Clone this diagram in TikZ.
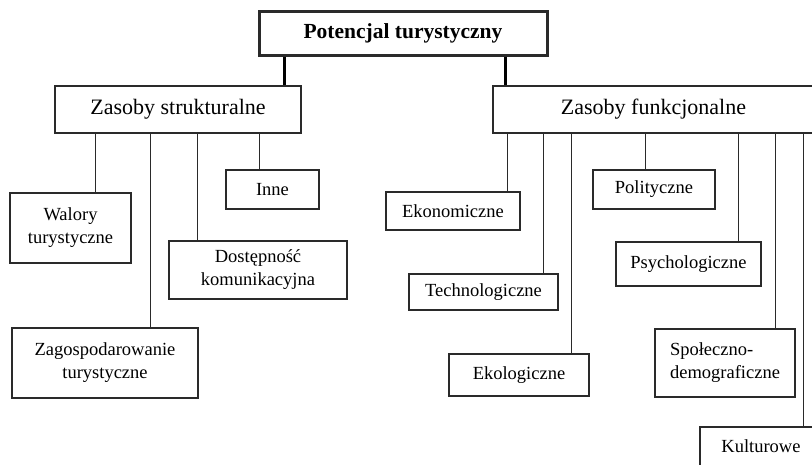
\documentclass[tikz,border=0pt]{standalone}
\usepackage{fontspec}
\setmainfont{Liberation Serif}
\definecolor{ink}{HTML}{2A2A2A}
\begin{document}
\begin{tikzpicture}[x=1pt,y=-1pt,
  box/.style={draw=ink,line width=1.4pt,inner sep=0pt,align=center,text=black,
    font=\fontsize{18.5}{23}\selectfont},
  mainbox/.style={box,font=\fontsize{22}{26}\selectfont},
  topbox/.style={box,line width=3pt,font=\fontsize{21.5}{24}\selectfont\bfseries},
  link/.style={draw=ink,line width=1.4pt},
  thicklink/.style={draw=black,line width=3pt}]
\useasboundingbox (0,0) rectangle (812,464);
\clip (0,0) rectangle (812,464);
\node[topbox,minimum width=288,minimum height=44] (top) at (403,33) {Potencjal turystyczny};
\node[mainbox,minimum width=246,minimum height=47] (zs) at (178,109.5) {Zasoby strukturalne};
\node[mainbox,minimum width=321,minimum height=47] (zf) at (653.5,109.5) {Zasoby funkcjonalne};
% structural children
\node[box,minimum width=121,minimum height=70] (walory) at (70.5,228) {Walory\\turystyczne};
\node[box,minimum width=186,minimum height=70] (zagosp) at (105,363) {Zagospodarowanie\\turystyczne};
\node[box,minimum width=178,minimum height=58] (dost) at (258,270) {Dostępność\\komunikacyjna};
\node[box,minimum width=93,minimum height=39] (inne) at (272.5,189.5) {Inne};
% functional children
\node[box,minimum width=134,minimum height=38] (ekon) at (453,211) {Ekonomiczne};
\node[box,minimum width=149,minimum height=36] (techn) at (483.5,292) {Technologiczne};
\node[box,minimum width=140,minimum height=42] (ekol) at (519,375) {Ekologiczne};
\node[box,minimum width=122,minimum height=39] (polit) at (654,189.5) {Polityczne};
\node[box,minimum width=145,minimum height=44] (psych) at (688.5,264) {Psychologiczne};
\node[box,minimum width=140,minimum height=68,align=left] (spol) at (725,363) {Społeczno-\\demograficzne};
\node[box,minimum width=122,minimum height=39] (kult) at (761,446.5) {Kulturowe};
% thick links
\draw[thicklink] ([xshift=27]top.south west) coordinate (t1) -- (t1 |- zs.north);
\draw[thicklink] ([xshift=248]top.south west) coordinate (t2) -- (t2 |- zf.north);
% structural links
\draw[link] ([xshift=41]zs.south west) coordinate (s1) -- (s1 |- walory.north);
\draw[link] ([xshift=96]zs.south west) coordinate (s2) -- (s2 |- zagosp.north);
\draw[link] ([xshift=143]zs.south west) coordinate (s3) -- (s3 |- dost.north);
\draw[link] ([xshift=205]zs.south west) coordinate (s4) -- (s4 |- inne.north);
% functional links
\draw[link] ([xshift=15]zf.south west) coordinate (f1) -- (f1 |- ekon.north);
\draw[link] ([xshift=51]zf.south west) coordinate (f2) -- (f2 |- techn.north);
\draw[link] ([xshift=79]zf.south west) coordinate (f3) -- (f3 |- ekol.north);
\draw[link] ([xshift=153]zf.south west) coordinate (f4) -- (f4 |- polit.north);
\draw[link] ([xshift=246]zf.south west) coordinate (f5) -- (f5 |- psych.north);
\draw[link] ([xshift=283]zf.south west) coordinate (f6) -- (f6 |- spol.north);
\draw[link] ([xshift=311]zf.south west) coordinate (f7) -- (f7 |- kult.north);
\end{tikzpicture}
\end{document}
